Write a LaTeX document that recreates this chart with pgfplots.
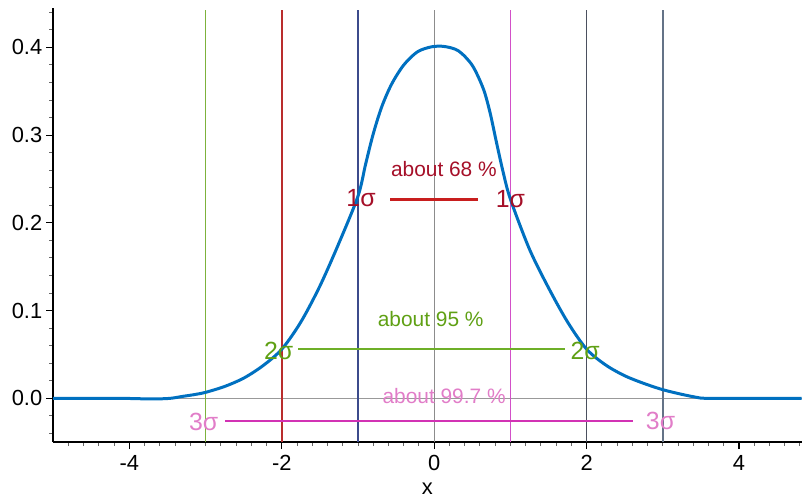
\documentclass[border=0pt]{standalone}
\usepackage{fontspec}
\setmainfont{Liberation Sans}
\usepackage{pgfplots}
\pgfplotsset{compat=1.18}

\definecolor{curveblue}{RGB}{0,112,192}
\definecolor{vgreen}{RGB}{125,178,60}
\definecolor{vred}{RGB}{185,45,45}
\definecolor{vnavy}{RGB}{60,75,140}
\definecolor{vorchid}{RGB}{210,80,200}
\definecolor{vdark}{RGB}{75,80,95}
\definecolor{vslate}{RGB}{100,115,135}
\definecolor{redtxt}{RGB}{165,15,40}
\definecolor{redline}{RGB}{200,30,30}
\definecolor{greentxt}{RGB}{95,160,20}
\definecolor{greenline}{RGB}{110,175,40}
\definecolor{pinktxt}{RGB}{225,125,200}
\definecolor{magline}{RGB}{210,50,180}

\begin{document}
\begin{tikzpicture}
\begin{axis}[
    scale only axis,
    width=374.85bp, height=217.5bp,
    xmin=-5, xmax=4.82, ymin=-0.05, ymax=0.445,
    axis x line=bottom, axis y line=left,
    axis line style={-, line width=1.1bp, black},
    xtick={-4,-2,0,2,4}, xticklabels={-4,-2,0,2,4},
    ytick={0,0.1,0.2,0.3,0.4}, yticklabels={0.0,0.1,0.2,0.3,0.4},
    minor xtick={-4.8,-4.6,...,4.7},
    minor ytick={-0.04,-0.02,...,0.445},
    tick align=outside,
    major tick length=3.5bp, minor tick length=2bp,
    major tick style={black, line width=0.6bp},
    minor tick style={black!60, line width=0.5bp},
    ticklabel style={font=\fontsize{11}{13}\selectfont},
    yticklabel style={xshift=1.5bp},
    xticklabel style={yshift=0.5bp},
    xlabel={x},
    xlabel style={font=\fontsize{11}{13}\selectfont, at={(axis description cs:0.5,0)}, anchor=center, yshift=-23.5bp},
    clip=false,
]
% grey zero lines
\addplot[black!40, line width=0.5bp] coordinates {(-5,0)(4.82,0)};
\addplot[black!45, line width=0.5bp] coordinates {(0,-0.05)(0,0.443)};
% sigma boundaries
\addplot[vgreen, line width=0.75bp] coordinates {(-3,-0.05)(-3,0.443)};
\addplot[vred, line width=0.75bp] coordinates {(-2,-0.05)(-2,0.443)};
\addplot[vnavy, line width=0.75bp] coordinates {(-1,-0.05)(-1,0.443)};
\addplot[vorchid, line width=0.75bp] coordinates {(1,-0.05)(1,0.443)};
\addplot[vdark, line width=0.75bp] coordinates {(2,-0.05)(2,0.443)};
\addplot[vslate, line width=0.75bp] coordinates {(3,-0.05)(3,0.443)};
% ranges
\addplot[redline, line width=1.1bp] coordinates {(-0.58,0.2267)(0.58,0.2267)};
\addplot[greenline, line width=1.1bp] coordinates {(-1.787,0.0561)(1.712,0.0561)};
\addplot[magline, line width=1.1bp] coordinates {(-2.742,-0.0255)(2.611,-0.0255)};
% density curve
\addplot[curveblue, line width=1.5bp, smooth] coordinates {
(-5,0)(-4.5,0)(-4.2,0)(-4.0,-0.0002)(-3.8,-0.0006)(-3.6,-0.0006)(-3.45,0.0001)
(-3.3,0.0022)(-3.15,0.0042)(-3.0,0.0068)(-2.75,0.0135)(-2.5,0.023)(-2.25,0.037)
(-2.0,0.056)(-1.75,0.087)(-1.5,0.128)(-1.25,0.177)(-1.0,0.2305)(-0.9,0.267)
(-0.80,0.3015)(-0.69,0.332)(-0.56,0.358)(-0.40,0.380)(-0.22,0.3950)(-0.03,0.4008)
(0.14,0.4010)(0.32,0.3960)(0.50,0.3795)(0.644,0.353)(0.732,0.326)(0.819,0.291)
(0.907,0.257)(1.0,0.227)(1.25,0.170)(1.5,0.126)(1.75,0.087)(2.0,0.056)(2.25,0.038)
(2.5,0.0257)(2.75,0.017)(3.0,0.0098)(3.25,0.0045)(3.45,0.001)(3.56,0)(4.0,0)(4.82,0)
};
% labels
\node[text=redtxt, font=\fontsize{10.5}{12}\selectfont] at (axis cs:0.127,0.2617) {about 68 \%};
\node[text=redtxt, font=\fontsize{12.5}{14}\selectfont] at (axis cs:-0.96,0.2287) {1σ};
\node[text=redtxt, font=\fontsize{12.5}{14}\selectfont] at (axis cs:1.0,0.2266) {1σ};
\node[text=greentxt, font=\fontsize{10.5}{12}\selectfont] at (axis cs:-0.046,0.0902) {about 95 \%};
\node[text=greentxt, font=\fontsize{12.5}{14}\selectfont] at (axis cs:-2.04,0.0542) {2σ};
\node[text=greentxt, font=\fontsize{12.5}{14}\selectfont] at (axis cs:1.98,0.054) {2σ};
\node[text=pinktxt, font=\fontsize{10.5}{12}\selectfont] at (axis cs:0.13,0.003) {about 99.7 \%};
\node[text=pinktxt, font=\fontsize{12.5}{14}\selectfont] at (axis cs:-3.025,-0.0273) {3σ};
\node[text=pinktxt, font=\fontsize{12.5}{14}\selectfont] at (axis cs:2.97,-0.0255) {3σ};
\end{axis}
\path ([xshift=-26.65bp,yshift=-27.35bp]current axis.south west) rectangle ([yshift=4bp]current axis.north east);
\end{tikzpicture}
\end{document}
